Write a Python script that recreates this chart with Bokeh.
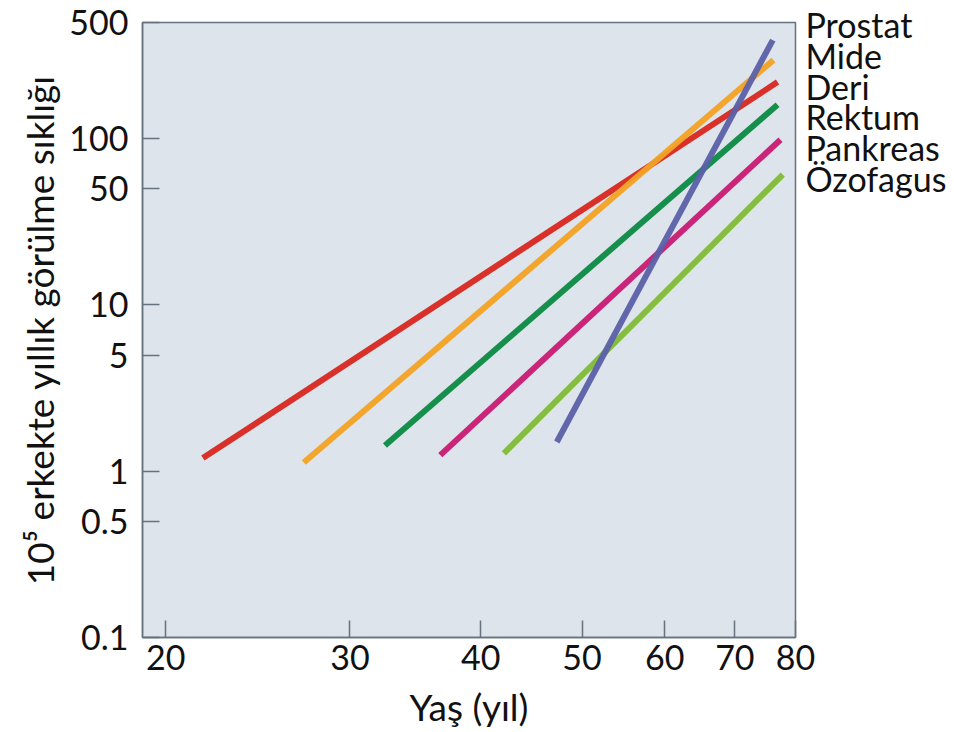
from bokeh.plotting import figure
from bokeh.models import FixedTicker, Range1d, LinearAxis, LinearScale
from bokeh.embed import file_html
from bokeh.resources import INLINE

# ---- data ----
names = ["Prostat", "Mide", "Deri", "Rektum", "Pankreas", "Özofagus"]
colors = ["#5b60a8", "#f2a224", "#d8261f", "#0b8a43", "#c81a72", "#7fbc35"]
age_start = [47.3, 27.1, 21.7, 32.4, 36.6, 42.1]
age_end = [76.1, 76.2, 76.9, 76.9, 77.4, 77.8]
rate_start = [1.5, 1.13, 1.2, 1.43, 1.25, 1.28]
rate_end = [392, 297, 219, 160, 98.6, 60.9]

x_ticks = [20, 30, 40, 50, 60, 70, 80]
y_ticks = [0.1, 0.5, 1, 5, 10, 50, 100, 500]
y_tick_labels = ["0.1", "0.5", "1", "5", "10", "50", "100", "500"]

FONT = "Lato"
AX = "#66727e"
TXT = "#111111"
W, H = 952, 732
TOP, BOTTOM, LEFT, RIGHT = 22, 95, 142, 157
FRAME_H = H - TOP - BOTTOM

p = figure(width=W, height=H, x_axis_type="log", y_axis_type="log",
           x_range=Range1d(19.0, 80), y_range=Range1d(0.1, 500),
           output_backend="svg", toolbar_location=None,
           min_border_left=LEFT, min_border_right=RIGHT, min_border_top=TOP,
           min_border_bottom=BOTTOM)

p.background_fill_color = "#dde4eb"
p.border_fill_color = "#ffffff"
p.outline_line_color = AX
p.outline_line_width = 1.5
p.grid.visible = False

p.xaxis.ticker = FixedTicker(ticks=x_ticks, minor_ticks=[])
p.yaxis.ticker = FixedTicker(ticks=y_ticks, minor_ticks=[])
p.xaxis.major_label_overrides = {t: str(t) for t in x_ticks}
p.yaxis.major_label_overrides = {t: s for t, s in zip(y_ticks, y_tick_labels)}

for ax in (p.xaxis, p.yaxis):
    ax.axis_line_color = AX
    ax.axis_line_width = 1.5
    ax.major_tick_line_color = AX
    ax.major_tick_line_width = 1.5
    ax.major_tick_in = 17
    ax.major_tick_out = 0
    ax.minor_tick_line_color = None
    ax.major_label_text_font = FONT
    ax.major_label_text_font_size = "34px"
    ax.major_label_text_color = TXT
    ax.axis_label_text_font = FONT
    ax.axis_label_text_font_size = "37px"
    ax.axis_label_text_font_style = "normal"
    ax.axis_label_text_color = TXT

p.xaxis.axis_label = "Yaş (yıl)"
p.yaxis.axis_label = "10⁵ erkekte yıllık görülme sıklığı"
p.xaxis.major_label_standoff = 7
p.yaxis.major_label_standoff = 14
p.xaxis.axis_label_standoff = 11
p.yaxis.axis_label_standoff = 4

order = [2, 1, 3, 4, 5, 0]
for i in order:
    p.line([age_start[i], age_end[i]], [rate_start[i], rate_end[i]],
           line_color=colors[i], line_width=6, line_alpha=0.95)

# stacked list of series names at the top right, drawn as the labels of a
# bare right-hand axis whose (linear) range is in pixels up from the frame bottom
p.extra_y_ranges = {"names": Range1d(start=0, end=FRAME_H)}
p.extra_y_scales = {"names": LinearScale()}
name_pos = [FRAME_H - 2 - round(k * 30.8) for k in range(len(names))]
rax = LinearAxis(y_range_name="names", ticker=FixedTicker(ticks=name_pos, minor_ticks=[]),
                 major_label_overrides={t: n for t, n in zip(name_pos, names)},
                 axis_line_color=None, major_tick_line_color=None,
                 minor_tick_line_color=None, major_label_standoff=4,
                 major_label_text_font=FONT, major_label_text_font_size="34px",
                 major_label_text_color=TXT)
p.add_layout(rax, "right")

open("out.html", "w").write(file_html(p, INLINE))
